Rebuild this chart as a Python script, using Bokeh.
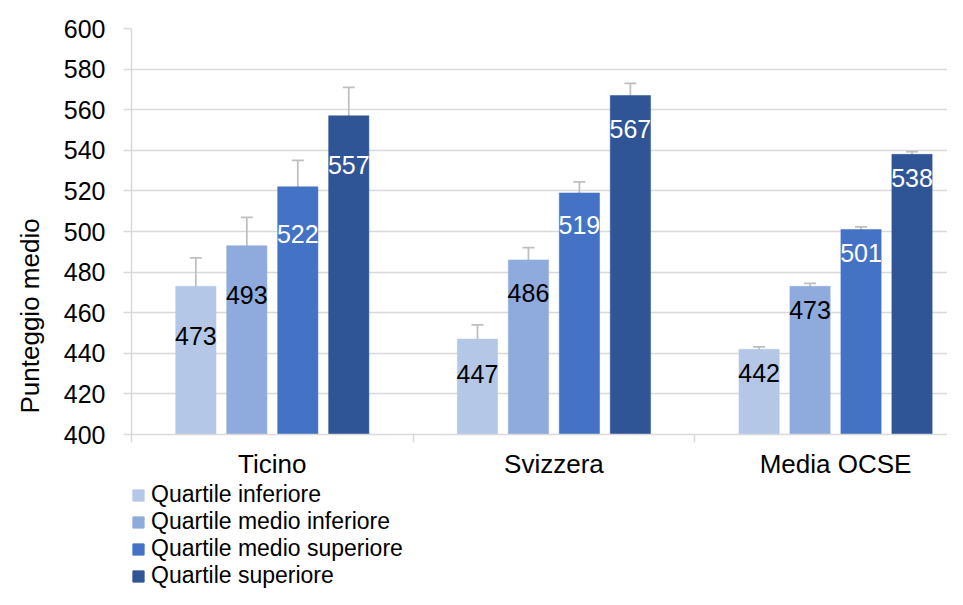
from bokeh.plotting import figure
from bokeh.layouts import column
from bokeh.models import (Range1d, FixedTicker, ColumnDataSource,
                          Whisker, TeeHead, Legend, LegendItem, Title)
from bokeh.embed import file_html
from bokeh.resources import INLINE
from bokeh.core.properties import value

# ---- data ----
categories = ["Ticino", "Svizzera", "Media OCSE"]
series_names = ["Quartile inferiore", "Quartile medio inferiore",
                "Quartile medio superiore", "Quartile superiore"]
q_inf = [473, 447, 442]
q_med_inf = [493, 486, 473]
q_med_sup = [522, 519, 501]
q_sup = [557, 567, 538]
err_inf = [14, 7, 1.2]
err_med_inf = [14, 6, 1.4]
err_med_sup = [13, 5.5, 1.3]
err_sup = [14, 6, 1.3]
y_ticks = list(range(400, 601, 20))

series_values = [q_inf, q_med_inf, q_med_sup, q_sup]
series_errors = [err_inf, err_med_inf, err_med_sup, err_sup]

# ---- styles ----
colors = ["#B4C7E7", "#8FAADC", "#4472C4", "#2F5597"]
label_colors = ["#000000", "#000000", "#FFFFFF", "#FFFFFF"]
FONT = "Liberation Sans"
GRID = "#D9D9D9"
ERR = "#BFBFBF"
pitch = 0.181
bar_w = 0.143

W = 947
H_MAIN, H_LEG = 481, 108
frame_left, frame_top, frame_bottom = 127, 28, 434
cat_px = 283.0
x_end = (W - frame_left) / cat_px

p = figure(width=W, height=H_MAIN, output_backend="svg", toolbar_location=None,
           x_range=Range1d(0, x_end), y_range=Range1d(400, 600),
           min_border_left=frame_left, min_border_top=frame_top,
           min_border_right=0, min_border_bottom=H_MAIN - frame_bottom)
p.outline_line_color = None
p.background_fill_color = "white"
p.border_fill_color = "white"

for i, (name, vals, errs) in enumerate(zip(series_names, series_values, series_errors)):
    xs = [c + 0.5 + (i - 1.5) * pitch for c in range(len(categories))]
    src = ColumnDataSource(dict(
        x=xs, top=vals,
        upper=[v + e for v, e in zip(vals, errs)],
        lower=[v - e for v, e in zip(vals, errs)],
        label=[str(v) for v in vals],
    ))
    p.vbar(x="x", top="top", bottom=400, width=bar_w, source=src,
           fill_color=colors[i], line_color=colors[i], line_width=0.5)
    wh = Whisker(base="x", upper="upper", lower="lower", source=src,
                 line_color=ERR, line_width=1.75,
                 upper_head=TeeHead(size=12, line_color=ERR, line_width=1.75),
                 lower_head=TeeHead(size=12, line_color=ERR, line_width=1.75))
    p.add_layout(wh)
    p.text(x="x", y="lower", text="label", source=src, y_offset=21,
           text_align="center", text_baseline="middle",
           text_font=value(FONT), text_font_size="25px", text_color=label_colors[i])

# y axis
p.yaxis.ticker = FixedTicker(ticks=y_ticks)
p.yaxis.axis_line_color = GRID
p.yaxis.axis_line_width = 1.5
p.yaxis.major_tick_line_color = GRID
p.yaxis.major_tick_line_width = 1.5
p.yaxis.major_tick_out = 8
p.yaxis.major_tick_in = 0
p.yaxis.minor_tick_line_color = None
p.yaxis.major_label_standoff = 18
p.yaxis.major_label_text_font = FONT
p.yaxis.major_label_text_font_size = "25px"
p.yaxis.major_label_text_color = "#000000"

p.ygrid.ticker = FixedTicker(ticks=y_ticks)
p.ygrid.grid_line_color = GRID
p.ygrid.grid_line_width = 1.5
p.xgrid.visible = False

# x axis: labels at category centres, boundary ticks as minor ticks
centers = [c + 0.5 for c in range(len(categories))]
p.xaxis.ticker = FixedTicker(ticks=centers, minor_ticks=list(range(len(categories) + 1)))
p.xaxis.major_label_overrides = {c: name for c, name in zip(centers, categories)}
p.xaxis.axis_line_color = GRID
p.xaxis.axis_line_width = 1.5
p.xaxis.major_tick_line_color = None
p.xaxis.major_tick_out = 0
p.xaxis.major_tick_in = 0
p.xaxis.minor_tick_line_color = GRID
p.xaxis.minor_tick_line_width = 1.5
p.xaxis.minor_tick_out = 8
p.xaxis.minor_tick_in = 0
p.xaxis.major_label_standoff = 6
p.xaxis.major_label_text_font = FONT
p.xaxis.major_label_text_font_size = "26px"
p.xaxis.major_label_text_color = "#000000"

# y axis title (side panel title, shifted along the axis)
ytitle = Title(text="Punteggio medio", align="left", offset=21,
               vertical_align="top", standoff=28,
               text_font=FONT, text_font_size="26px", text_font_style="normal",
               text_color="#000000")
p.add_layout(ytitle, "left")

# ---- legend strip below the chart ----
lg = figure(width=W, height=H_LEG, output_backend="svg", toolbar_location=None,
            x_range=Range1d(0, 1), y_range=Range1d(0, 1),
            x_axis_location=None, y_axis_location=None,
            min_border_left=0, min_border_right=0, min_border_top=0, min_border_bottom=0)
lg.outline_line_color = None
lg.background_fill_color = "white"
lg.border_fill_color = "white"
lg.xgrid.visible = False
lg.ygrid.visible = False
items = []
for i, name in enumerate(series_names):
    # swatch-only renderer: its single bar lies outside the visible range
    r = lg.vbar(x=[-5], top=[-5], bottom=-6, width=0.1,
                fill_color=colors[i], line_color=colors[i])
    items.append(LegendItem(label=name, renderers=[r]))
legend = Legend(items=items, location=(0, 0), orientation="vertical",
                glyph_width=14, glyph_height=14, label_height=27, spacing=0,
                label_standoff=6, padding=0, margin=0,
                label_text_font=FONT, label_text_font_size="23px",
                label_text_color="#000000",
                border_line_alpha=0, background_fill_alpha=0)
lg.add_layout(legend, "center")

layout = column(p, lg, spacing=0)
open("out.html", "w").write(file_html(layout, INLINE))
